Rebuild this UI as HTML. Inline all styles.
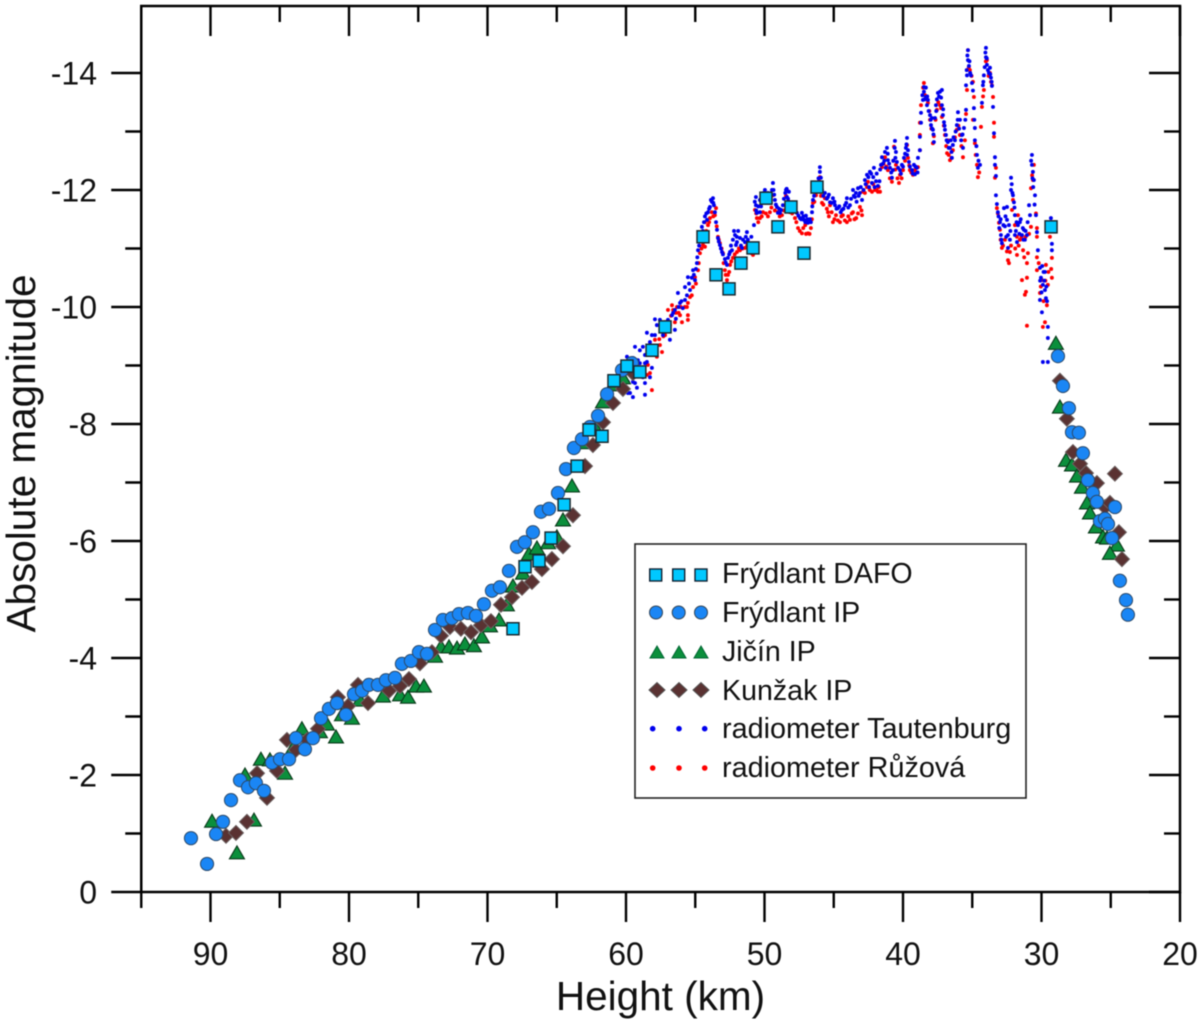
<!DOCTYPE html>
<html lang="en">
<head>
<meta charset="utf-8">
<title>Absolute magnitude versus height</title>
<style>
html,body{margin:0;padding:0;background:#fff;}
body{width:1200px;height:1023px;overflow:hidden;}
svg{display:block;font-family:"Liberation Sans",Arial,sans-serif;filter:blur(0.4px);}
</style>
</head>
<body>
<svg id="chart" xmlns="http://www.w3.org/2000/svg" width="1200" height="1023" viewBox="0 0 1200 1023">
<rect x="0" y="0" width="1200" height="1023" fill="#fff"/>
<g id="radiometer-layer"></g>
<g id="marker-layer"></g>
<g id="axes-layer"></g>
<text transform="translate(35 453.5) rotate(-90)" text-anchor="middle" font-size="40.5" fill="#111">Absolute magnitude</text>
<text x="660.5" y="1010" text-anchor="middle" font-size="40.5" fill="#111">Height (km)</text>
<g id="legend">
<rect x="635" y="544" width="391" height="254" fill="#fff" stroke="#222" stroke-width="1.6"/>
<g>
<rect x="649.7" y="569" width="12" height="12" fill="#00c8ff" stroke="#123" stroke-width="1.4"/><rect x="672.7" y="569" width="12" height="12" fill="#00c8ff" stroke="#123" stroke-width="1.4"/><rect x="695" y="569" width="12" height="12" fill="#00c8ff" stroke="#123" stroke-width="1.4"/>
<text x="722" y="583" font-size="28.6" fill="#111">Frýdlant DAFO</text></g>
<g>
<circle cx="656" cy="612.5" r="6.5" fill="#1a86f5" stroke="#345" stroke-width="1"/><circle cx="678.7" cy="612.5" r="6.5" fill="#1a86f5" stroke="#345" stroke-width="1"/><circle cx="701" cy="612.5" r="6.5" fill="#1a86f5" stroke="#345" stroke-width="1"/>
<text x="722" y="622" font-size="28.6" fill="#111">Frýdlant IP</text></g>
<g>
<polygon points="650,658 657,646 664,658" fill="#0b8f3c" stroke="#063" stroke-width="1"/><polygon points="672,658 679,646 686,658" fill="#0b8f3c" stroke="#063" stroke-width="1"/><polygon points="694,658 701,646 708,658" fill="#0b8f3c" stroke="#063" stroke-width="1"/>
<text x="722" y="661" font-size="28.6" fill="#111">Jičín IP</text></g>
<g>
<polygon points="649,690 657,682.5 665,690 657,697.5" fill="#5a3232" stroke="#555" stroke-width="1"/><polygon points="671,690 679,682.5 687,690 679,697.5" fill="#5a3232" stroke="#555" stroke-width="1"/><polygon points="693,690 701,682.5 709,690 701,697.5" fill="#5a3232" stroke="#555" stroke-width="1"/>
<text x="722" y="700" font-size="28.6" fill="#111">Kunžak IP</text></g>
<g>
<circle cx="652.7" cy="728.7" r="2.8" fill="#0000ee"/><circle cx="679" cy="728.7" r="2.8" fill="#0000ee"/><circle cx="704.7" cy="728.7" r="2.8" fill="#0000ee"/>
<text x="722" y="738" font-size="28.8" fill="#111">radiometer Tautenburg</text></g>
<g>
<circle cx="652.7" cy="768" r="2.8" fill="#f00"/><circle cx="679" cy="768" r="2.8" fill="#f00"/><circle cx="704.7" cy="768" r="2.8" fill="#f00"/>
<text x="722" y="777" font-size="28.8" fill="#111">radiometer Růžová</text></g>
</g>
</svg>
<script>
const xMajorTicks = [90, 80, 70, 60, 50, 40, 30, 20];
const xMinorTicks = [95, 85, 75, 65, 55, 45, 35, 25];
const yMajorTicks = [0, -2, -4, -6, -8, -10, -12, -14];
const yMinorTicks = [-1, -3, -5, -7, -9, -11, -13];

const dafoHeight = [68.16,67.29,66.28,65.41,64.47,63.53,62.67,61.73,60.87,59.93,59.0,58.12,57.18,54.44,53.5,52.56,51.7,50.83,49.89,49.03,48.09,47.15,46.21,29.31];
const dafoMag = [-4.5,-5.56,-5.66,-6.05,-6.62,-7.28,-7.9,-7.79,-8.74,-8.99,-8.89,-9.26,-9.66,-11.2,-10.55,-10.31,-10.75,-11.01,-11.86,-11.37,-11.71,-10.92,-12.05,-11.37];

const frydlantHeight = [91.41,90.25,89.6,89.1,88.52,87.87,87.29,86.72,86.14,85.56,84.98,84.33,83.83,83.18,82.6,82.02,81.45,80.87,80.22,79.64,79.06,78.56,77.91,77.33,76.68,76.18,75.53,74.95,74.37,73.79,73.22,72.57,72.06,71.41,70.83,70.26,69.68,69.1,68.45,67.87,67.3,66.72,66.14,65.56,64.91,64.33,63.76,63.18,62.6,62.02,61.37,60.29,59.57,28.81,28.45,28.02,27.8,27.3,27.01,26.65,26.29,26.0,24.7,25.78,25.42,25.2,24.91,24.34,23.9,23.76];
const frydlantMag = [-0.92,-0.48,-0.99,-1.2,-1.57,-1.91,-1.79,-1.86,-1.73,-2.21,-2.27,-2.27,-2.63,-2.44,-2.63,-2.97,-3.13,-3.23,-3.03,-3.38,-3.44,-3.54,-3.54,-3.62,-3.66,-3.9,-3.95,-4.1,-4.07,-4.48,-4.65,-4.68,-4.75,-4.77,-4.72,-4.92,-5.15,-5.21,-5.49,-5.9,-5.98,-6.15,-6.5,-6.55,-6.82,-7.23,-7.59,-7.74,-7.95,-8.14,-8.51,-8.92,-9.04,-9.16,-8.65,-8.27,-7.86,-7.85,-7.5,-7.04,-6.82,-6.67,-6.58,-6.34,-6.38,-6.29,-6.05,-5.32,-4.99,-4.74];

const jicinHeight = [89.89,88.09,87.51,86.86,86.36,85.71,84.62,84.05,83.4,82.1,81.59,80.94,80.51,79.79,79.21,77.55,76.32,75.74,75.16,74.59,73.79,73.36,72.78,72.2,71.63,70.98,70.4,69.82,69.17,68.6,68.16,67.44,67.01,66.43,65.63,64.99,64.55,63.9,63.11,62.24,61.66,60.94,60.22,28.96,28.67,28.23,27.8,27.44,27.08,26.72,26.5,26.07,25.56,25.27,24.55,25.06];
const jicinMag = [-1.21,-0.67,-2.0,-1.23,-2.27,-2.26,-2.03,-2.46,-2.79,-2.74,-2.87,-2.65,-3.03,-2.97,-3.28,-3.35,-3.37,-3.33,-3.52,-3.52,-4.03,-4.19,-4.19,-4.17,-4.24,-4.21,-4.36,-4.55,-4.65,-4.91,-5.23,-5.45,-5.78,-5.88,-5.97,-6.07,-6.36,-6.94,-7.68,-7.95,-8.38,-8.67,-8.79,-9.38,-8.29,-7.38,-7.3,-7.11,-6.92,-6.65,-6.48,-6.24,-6.07,-6.05,-5.93,-5.79];

const kunzakHeight = [88.88,88.16,87.37,86.64,85.92,85.2,84.48,83.83,83.03,82.24,80.8,80.07,79.35,78.63,77.11,76.32,75.67,74.88,74.01,73.36,72.71,71.92,71.19,70.47,69.75,69.03,68.23,67.51,66.79,66.07,65.35,64.55,63.83,62.96,62.39,61.66,60.94,60.22,59.5,28.67,28.17,27.73,27.22,26.79,26.0,24.7,25.42,25.06,24.41,24.19];
const kunzakMag = [-0.96,-1.01,-1.2,-2.03,-1.61,-2.07,-2.6,-2.43,-2.6,-2.79,-3.33,-3.18,-3.54,-3.23,-3.44,-3.52,-3.64,-3.91,-4.1,-4.38,-4.53,-4.5,-4.44,-4.56,-4.63,-4.91,-5.04,-5.2,-5.3,-5.52,-5.69,-5.91,-6.44,-7.28,-7.64,-8.03,-8.36,-8.6,-8.87,-8.74,-8.09,-7.52,-7.32,-7.16,-6.99,-7.15,-6.58,-6.65,-6.15,-5.69];

const tautenburgHeight = [59.93,59.86,59.86,59.71,59.5,59.5,59.5,59.35,59.35,59.21,59.14,59.0,59.0,58.78,58.78,58.63,58.63,58.63,58.63,58.49,58.49,58.27,58.27,58.13,58.13,57.91,57.91,57.77,57.55,57.33,57.18,56.97,56.83,56.68,56.47,56.47,56.25,56.1,55.74,55.74,55.53,55.38,55.16,55.02,54.88,54.8,54.66,54.52,54.37,54.15,54.08,53.94,53.87,53.72,53.65,53.58,53.5,53.43,53.36,53.22,53.07,52.86,52.71,52.64,52.49,52.35,52.28,52.13,52.06,51.99,51.77,51.63,51.41,51.27,51.12,50.76,50.62,50.62,50.55,50.33,50.33,50.18,49.97,49.82,49.61,49.46,49.39,49.25,49.1,49.03,48.88,48.67,48.45,48.38,48.24,48.16,47.95,47.66,47.44,47.3,47.15,47.01,46.86,46.65,46.57,46.5,46.36,46.14,46.0,46.0,45.93,45.85,45.64,45.42,45.27,45.06,44.91,44.7,44.41,44.19,44.05,43.83,43.61,43.47,43.25,43.11,42.96,42.75,42.6,42.39,42.24,42.1,41.95,41.81,41.59,41.52,41.3,41.16,41.09,40.94,40.8,40.73,40.58,40.51,40.44,40.22,40.08,39.93,39.79,39.71,39.64,39.57,39.35,39.21,39.14,39.0,38.92,38.78,38.78,38.7,38.7,38.56,38.49,38.49,38.34,38.27,38.2,38.05,37.98,37.91,37.84,37.77,37.69,37.62,37.48,37.33,37.19,37.19,37.12,37.04,36.97,36.9,36.76,36.61,36.47,36.4,36.25,36.11,36.03,35.89,35.75,35.67,35.6,35.45,35.45,35.38,35.31,35.31,35.24,35.09,35.02,34.88,34.81,34.81,34.66,34.59,34.44,34.3,34.23,34.16,34.01,34.01,33.94,33.87,33.72,33.65,33.58,33.5,33.43,33.36,33.36,33.29,33.29,33.22,33.15,33.0,32.93,32.86,32.71,32.64,32.49,32.49,32.42,32.42,32.28,32.2,32.2,32.06,31.99,31.92,31.92,31.77,31.7,31.56,31.41,31.27,31.2,31.05,30.9,30.83,30.69,30.69,30.62,30.55,30.47,30.4,30.33,30.26,30.11,30.04,29.9,29.75,29.75,29.68,30.11,29.97,29.54,29.54,29.9,29.54,29.32,29.25,29.25];
const tautenburgMag = [-9.15,-8.72,-8.53,-8.53,-8.46,-8.72,-9.13,-9.32,-8.7,-8.62,-9.09,-9.26,-9.04,-9.32,-8.8,-9.18,-9.04,-8.7,-8.5,-9.56,-9.06,-9.4,-8.8,-9.52,-8.96,-9.79,-9.52,-9.69,-9.78,-9.52,-9.74,-9.78,-9.44,-9.86,-9.95,-9.61,-10.24,-10.07,-10.34,-10.12,-10.51,-10.29,-10.63,-10.46,-10.75,-10.97,-11.15,-11.37,-11.45,-11.49,-11.62,-11.71,-11.83,-11.86,-11.74,-11.62,-11.45,-11.32,-11.18,-11.06,-10.94,-10.82,-10.72,-10.84,-10.94,-10.97,-11.15,-11.23,-11.06,-11.11,-11.18,-11.01,-11.11,-11.28,-11.06,-11.4,-11.88,-11.74,-11.61,-11.83,-11.62,-11.91,-12.0,-11.83,-11.88,-12.0,-12.12,-11.83,-11.71,-11.61,-11.61,-11.74,-12.0,-11.88,-11.97,-11.78,-11.69,-11.61,-11.52,-11.61,-11.49,-11.56,-11.44,-11.45,-11.62,-11.83,-12.0,-12.12,-12.31,-12.39,-12.21,-12.0,-11.95,-11.88,-11.79,-11.86,-11.74,-11.69,-11.66,-11.74,-11.86,-11.74,-12.0,-11.88,-12.03,-11.95,-11.83,-12.17,-12.26,-12.31,-12.12,-12.38,-12.15,-12.07,-12.43,-12.56,-12.65,-12.72,-12.51,-12.38,-12.21,-12.34,-12.84,-12.65,-12.48,-12.34,-12.43,-12.55,-12.72,-12.89,-12.68,-12.48,-12.34,-12.43,-12.27,-12.38,-12.55,-12.68,-12.91,-13.15,-13.32,-13.54,-13.68,-13.76,-13.59,-13.45,-13.54,-13.28,-13.11,-13.23,-13.03,-12.82,-13.23,-13.45,-13.66,-13.68,-13.71,-13.45,-13.28,-13.16,-13.03,-12.94,-12.82,-12.72,-12.55,-12.77,-12.85,-13.11,-13.33,-13.2,-12.94,-12.72,-13.06,-13.37,-13.79,-13.96,-14.22,-14.39,-14.12,-13.96,-13.83,-13.4,-13.06,-12.85,-12.6,-12.38,-12.43,-13.49,-13.79,-13.96,-14.43,-14.27,-14.14,-14.05,-14.09,-13.92,-13.78,-13.42,-12.97,-12.56,-12.43,-12.24,-11.91,-11.76,-11.62,-11.45,-11.23,-11.09,-11.69,-11.38,-11.71,-11.49,-11.23,-11.01,-11.15,-12.21,-12.0,-11.91,-11.79,-11.57,-11.23,-11.11,-11.4,-11.45,-11.23,-11.32,-11.15,-11.23,-11.74,-11.57,-12.6,-12.43,-12.31,-12.17,-11.91,-11.57,-11.28,-10.97,-10.67,-10.5,-10.38,-10.6,-10.29,-10.15,-10.12,-9.91,-9.66,-9.47,-9.06,-9.06,-11.52,-11.08,-10.97];

const tautenburgExtraHeight = [56.6,56.4,56.2,56.0,55.9,55.6,55.45,55.25,55.1,54.95,54.85,54.72,54.6,54.45,54.3,54.2,54.0,53.8,53.7,53.3,53.15,53.0,52.8,52.55,52.42,52.2,52.0,51.9,51.7,51.55,51.35,51.2,50.95,50.7,50.6,50.45,50.25,50.1,50.05,49.9,49.75,49.55,49.35,49.3,49.18,48.95,48.8,48.6,48.5,48.4,48.3,48.1,47.85,47.55,47.35,47.2,47.05,46.9,46.72,46.55,46.42,46.25,46.1,45.9,45.75,45.5,45.35,45.15,44.95,44.8,44.6,44.5,44.3,44.1,43.95,43.75,43.55,43.4,43.35,43.2,43.05,42.85,42.7,42.5,42.45,42.3,42.15,42.05,41.9,41.7,41.65,41.45,41.35,41.25,41.1,41.0,40.85,40.7,40.6,40.55,40.35,40.15,40.0,39.85,39.75,39.7,39.5,39.3,39.1,38.95,38.6,38.45,38.35,38.25,38.15,38.0,37.9,37.8,37.6,37.55,37.4,37.25,37.1,37.0,36.85,36.7,36.55,36.5,36.35,36.2,36.05,35.95,35.8,35.7,35.5,35.4,35.35,35.2,35.15,34.95,34.85,34.7,34.55,34.2,34.1,34.05,33.95,33.8,33.7,33.6,33.1,33.05,32.95,32.9,32.75,32.6,32.55,32.35,32.25,32.15,32.1,31.95,31.85,31.8,31.6,31.5,31.35,31.3,31.15,31.0,30.75,30.65,30.6,30.5,30.1,30.0,29.85,29.8,29.65,29.6,29.95];
const tautenburgExtraMag = [-9.9,-9.8,-10.0,-10.1,-9.98,-10.2,-10.4,-10.5,-10.55,-10.65,-10.85,-11.05,-11.25,-11.3,-11.55,-11.6,-11.68,-11.8,-11.78,-11.12,-11.0,-10.9,-10.76,-10.9,-11.05,-11.3,-11.2,-11.3,-11.05,-11.15,-11.2,-11.15,-11.2,-11.8,-11.65,-11.72,-11.72,-11.85,-11.95,-11.9,-11.95,-11.78,-12.0,-11.92,-11.75,-11.68,-11.66,-11.85,-11.95,-12.02,-11.85,-11.72,-11.65,-11.56,-11.5,-11.55,-11.45,-11.5,-11.5,-11.72,-11.9,-12.05,-12.2,-12.1,-11.9,-11.85,-11.92,-11.78,-11.8,-11.68,-11.72,-11.62,-11.68,-11.78,-11.7,-11.85,-11.9,-11.95,-11.8,-11.9,-12.05,-12.0,-12.1,-12.22,-12.05,-12.28,-12.22,-12.05,-12.28,-12.15,-12.35,-12.45,-12.5,-12.38,-12.62,-12.45,-12.3,-12.5,-12.72,-12.55,-12.38,-12.28,-12.4,-12.62,-12.78,-12.6,-12.4,-12.28,-12.4,-12.3,-13.62,-13.55,-13.75,-13.6,-13.35,-13.2,-13.05,-12.95,-13.35,-13.55,-13.6,-13.58,-13.38,-13.1,-12.85,-12.72,-12.85,-12.65,-12.9,-13.0,-13.2,-13.05,-12.85,-12.95,-13.2,-14.05,-14.3,-14.2,-14.0,-13.7,-13.2,-12.75,-12.5,-13.85,-14.1,-14.35,-14.25,-14.0,-13.98,-13.85,-11.55,-11.35,-11.5,-11.15,-11.4,-11.55,-11.2,-11.4,-11.3,-12.1,-11.95,-11.7,-11.3,-11.45,-11.25,-11.5,-11.35,-11.15,-11.3,-11.45,-12.5,-12.2,-12.05,-11.75,-10.45,-10.25,-10.6,-10.45,-10.35,-10.1,-10.7];

const ruzovaHeight = [58.49,58.27,58.42,58.13,58.13,57.77,57.55,57.4,57.91,57.4,57.18,56.97,56.68,56.83,56.32,56.47,55.96,56.1,55.53,55.38,55.53,55.53,55.16,55.02,54.8,54.66,54.44,54.3,54.3,54.08,53.94,53.8,53.58,53.5,53.36,53.22,53.0,52.86,52.71,52.64,52.49,52.28,51.99,51.77,51.41,51.12,50.83,50.69,50.55,50.33,50.11,49.61,49.39,49.03,48.74,48.38,48.16,47.8,47.58,47.3,47.06,46.86,46.65,46.5,46.28,46.14,46.0,45.85,45.64,45.42,45.27,45.06,44.84,44.55,44.34,44.05,43.83,43.61,43.38,43.11,42.96,42.89,42.6,42.53,42.24,42.02,41.81,41.66,41.52,41.3,41.09,40.8,40.65,40.51,40.29,40.22,40.0,39.71,39.64,39.5,39.28,39.14,38.92,38.78,38.78,38.78,38.7,38.49,38.41,38.2,38.05,37.84,37.77,37.55,37.33,37.19,36.97,36.82,36.76,36.61,36.4,36.11,35.89,35.67,35.53,35.38,35.31,35.17,34.95,34.88,34.95,34.81,34.66,34.59,34.37,34.3,34.16,33.94,33.72,33.58,33.5,33.43,33.43,33.29,33.36,33.22,33.07,33.0,32.86,32.64,32.42,32.28,32.13,32.06,31.92,31.77,31.77,31.7,31.56,31.33,31.41,31.2,31.12,31.05,31.05,31.05,30.98,30.76,30.76,30.62,30.55,30.33,30.33,30.33,30.33,30.11,29.97,29.9,29.75,29.68,29.61,29.54,29.39,29.25,29.25];
const ruzovaMag = [-8.84,-8.87,-9.01,-8.58,-9.18,-9.15,-9.35,-9.23,-9.44,-9.61,-9.52,-9.95,-10.03,-9.69,-10.0,-9.74,-9.74,-9.86,-10.07,-10.17,-9.86,-9.78,-10.34,-10.51,-10.63,-10.92,-11.06,-11.03,-11.45,-11.4,-11.52,-11.62,-11.57,-11.69,-11.2,-11.09,-10.92,-10.63,-10.46,-10.55,-10.72,-10.84,-10.94,-10.97,-11.01,-10.97,-10.89,-11.66,-11.52,-11.52,-11.62,-11.62,-11.91,-11.62,-11.57,-12.0,-11.62,-11.52,-11.35,-11.26,-11.4,-11.26,-11.35,-11.78,-11.91,-12.05,-12.22,-11.78,-11.86,-11.62,-11.74,-11.45,-11.57,-11.45,-11.57,-11.45,-11.49,-11.62,-11.52,-11.71,-11.57,-11.97,-12.05,-12.14,-11.97,-12.0,-11.97,-11.97,-12.39,-12.56,-12.34,-12.14,-12.74,-12.43,-12.12,-12.26,-12.34,-12.77,-12.55,-12.34,-12.26,-12.34,-12.39,-12.68,-12.94,-13.15,-13.45,-13.83,-13.62,-13.49,-13.2,-12.8,-12.92,-13.37,-13.45,-13.25,-12.94,-12.63,-12.85,-12.51,-12.68,-13.03,-12.94,-12.56,-12.85,-13.71,-14.39,-14.05,-13.85,-13.59,-13.2,-12.8,-12.43,-12.22,-13.08,-13.42,-13.71,-14.22,-14.0,-13.79,-13.59,-13.15,-12.91,-12.38,-12.21,-11.69,-11.44,-11.32,-11.01,-11.15,-10.8,-10.94,-11.66,-11.83,-11.4,-11.2,-10.89,-11.57,-11.15,-10.97,-10.46,-10.21,-10.26,-10.75,-10.5,-9.68,-10.92,-11.37,-12.03,-12.17,-12.43,-11.35,-11.2,-10.85,-10.63,-10.24,-10.46,-9.66,-9.74,-10.72,-10.03,-10.38,-11.2,-10.84,-10.5];

const ruzovaExtraHeight = [57.6,57.3,57.0,56.75,56.6,56.4,56.2,56.05,55.75,55.6,55.25,54.95,54.75,54.55,54.4,54.2,54.0,53.7,53.45,53.3,53.1,52.95,52.8,52.55,52.4,52.15,51.85,51.6,51.25,50.95,50.6,50.45,50.2,49.9,49.75,49.5,49.25,48.9,48.6,48.45,48.25,48.0,47.7,47.45,47.2,47.0,46.75,46.58,46.4,46.2,46.05,45.92,45.75,45.5,45.35,45.15,44.95,44.7,44.45,44.2,43.95,43.7,43.5,43.25,43.0,42.75,42.65,42.4,42.15,41.9,41.75,41.4,41.2,40.95,40.7,40.55,40.4,40.1,39.85,39.55,39.4,39.05,38.55,38.3,38.1,37.95,37.65,37.45,37.25,37.05,36.88,36.7,36.5,36.25,36.0,35.78,35.45,35.25,35.05,34.75,34.5,34.22,34.02,33.82,33.65,33.15,32.95,32.78,32.5,32.35,32.2,31.9,31.65,31.45,31.25,31.15,30.9,30.68,30.4,30.2,30.05,29.85,29.72,29.5,29.3];
const ruzovaExtraMag = [-9.45,-9.5,-9.75,-9.85,-9.95,-9.9,-9.9,-10.0,-10.0,-10.0,-10.2,-10.4,-10.75,-11.0,-11.2,-11.3,-11.45,-11.55,-11.38,-11.15,-11.0,-10.75,-10.55,-10.6,-10.78,-10.9,-11.0,-11.0,-11.05,-10.92,-11.6,-11.45,-11.55,-11.6,-11.55,-11.7,-11.65,-11.55,-11.65,-11.9,-11.8,-11.6,-11.45,-11.3,-11.35,-11.25,-11.25,-11.5,-11.8,-12.0,-12.15,-11.9,-11.75,-11.68,-11.55,-11.62,-11.5,-11.48,-11.55,-11.48,-11.55,-11.6,-11.5,-11.6,-11.65,-11.95,-12.1,-12.0,-12.1,-12.0,-12.05,-12.45,-12.4,-12.2,-12.5,-12.35,-12.2,-12.2,-12.5,-12.42,-12.3,-12.3,-13.75,-13.55,-13.35,-13.05,-13.2,-13.5,-13.4,-13.1,-12.75,-12.6,-12.55,-12.9,-13.1,-12.75,-13.3,-14.1,-13.95,-12.6,-12.3,-13.6,-14.2,-13.95,-13.85,-11.6,-11.15,-11.05,-10.95,-10.75,-11.05,-11.0,-11.05,-11.2,-10.85,-11.2,-11.25,-12.25,-11.6,-10.75,-10.35,-10.1,-10.45,-10.6,-10.65];

const svgNS = 'http://www.w3.org/2000/svg';
const xScale = h => 210.5 + (90 - h) * 13.85;
const yScale = m => 892 + m * 58.5;
const X_LEFT = xScale(95), X_RIGHT = xScale(20), Y_BOTTOM = yScale(0), Y_TOP = 6;
const DOT_RADIUS = 1.95;

function make(tag, attrs, parent) {
  const el = document.createElementNS(svgNS, tag);
  for (const k in attrs) el.setAttribute(k, attrs[k]);
  parent.appendChild(el);
  return el;
}

const radioLayer = document.getElementById('radiometer-layer');
ruzovaHeight.concat(ruzovaExtraHeight).forEach((h, i) => {
  const m = ruzovaMag.concat(ruzovaExtraMag)[i];
  const el = make('circle', {cx: xScale(h), cy: yScale(m), r: DOT_RADIUS, fill: '#ff0000'}, radioLayer);
  
  
});
tautenburgHeight.concat(tautenburgExtraHeight).forEach((h, i) => {
  const m = tautenburgMag.concat(tautenburgExtraMag)[i];
  const el = make('circle', {cx: xScale(h), cy: yScale(m), r: DOT_RADIUS, fill: '#0000ee'}, radioLayer);
  
  
});

const markerLayer = document.getElementById('marker-layer');
jicinHeight.forEach((h, i) => {
  const x = xScale(h), y = yScale(jicinMag[i]);
  const el = make('polygon', {points: `${x-7.5},${y+6} ${x},${y-7} ${x+7.5},${y+6}`, fill: '#0b8f3c', stroke: '#0a3a1a', 'stroke-width': 1.1}, markerLayer);
  
  
});
kunzakHeight.forEach((h, i) => {
  const x = xScale(h), y = yScale(kunzakMag[i]);
  const el = make('polygon', {points: `${x-7.5},${y} ${x},${y-7.5} ${x+7.5},${y} ${x},${y+7.5}`, fill: '#5a3232', stroke: '#6b6060', 'stroke-width': 1}, markerLayer);
  
  
});
frydlantHeight.forEach((h, i) => {
  const el = make('circle', {cx: xScale(h), cy: yScale(frydlantMag[i]), r: 6.6, fill: '#1a86f5', stroke: '#2c4a6a', 'stroke-width': 1}, markerLayer);
  
  
});
dafoHeight.forEach((h, i) => {
  const el = make('rect', {x: xScale(h) - 6, y: yScale(dafoMag[i]) - 6, width: 12, height: 12, fill: '#00c8ff', stroke: '#1a2a30', 'stroke-width': 1.5}, markerLayer);
  
  
});

const axes = document.getElementById('axes-layer');
const TICK_STYLE = {stroke: '#000', 'stroke-width': 2.4, 'stroke-linecap': 'butt'};
const frame = make('rect', {x: X_LEFT, y: Y_TOP, width: X_RIGHT - X_LEFT, height: Y_BOTTOM - Y_TOP, fill: 'none', stroke: '#000', 'stroke-width': 2.5}, axes);



xMajorTicks.forEach(v => {
  const x = xScale(v);
  const low = make('line', Object.assign({x1: x, x2: x, y1: Y_BOTTOM, y2: Y_BOTTOM + 30}, TICK_STYLE), axes);
  
  
  const up = make('line', Object.assign({x1: x, x2: x, y1: Y_TOP, y2: Y_TOP + 30}, TICK_STYLE), axes);
  
  
  const t = make('text', {x: x, y: 965, 'text-anchor': 'middle', 'font-size': 32, fill: '#111'}, axes);
  t.textContent = String(v);
  
  
});
xMinorTicks.forEach(v => {
  const x = xScale(v);
  const low = make('line', Object.assign({x1: x, x2: x, y1: Y_BOTTOM, y2: Y_BOTTOM + 16}, TICK_STYLE), axes);
  
  
  const up = make('line', Object.assign({x1: x, x2: x, y1: Y_TOP, y2: Y_TOP + 16}, TICK_STYLE), axes);
  
  
});
yMajorTicks.forEach(v => {
  const y = yScale(v);
  const left = make('line', Object.assign({x1: X_LEFT - 30, x2: X_LEFT, y1: y, y2: y}, TICK_STYLE), axes);
  
  
  const right = make('line', Object.assign({x1: X_RIGHT - 31, x2: X_RIGHT, y1: y, y2: y}, TICK_STYLE), axes);
  
  
  const t = make('text', {x: 97, y: y + 11.5, 'text-anchor': 'end', 'font-size': 32, fill: '#111'}, axes);
  t.textContent = String(v);
  
  
});
yMinorTicks.forEach(v => {
  const y = yScale(v);
  const left = make('line', Object.assign({x1: X_LEFT - 16, x2: X_LEFT, y1: y, y2: y}, TICK_STYLE), axes);
  
  
  const right = make('line', Object.assign({x1: X_RIGHT - 16, x2: X_RIGHT, y1: y, y2: y}, TICK_STYLE), axes);
  
  
});
</script>
</body>
</html>
